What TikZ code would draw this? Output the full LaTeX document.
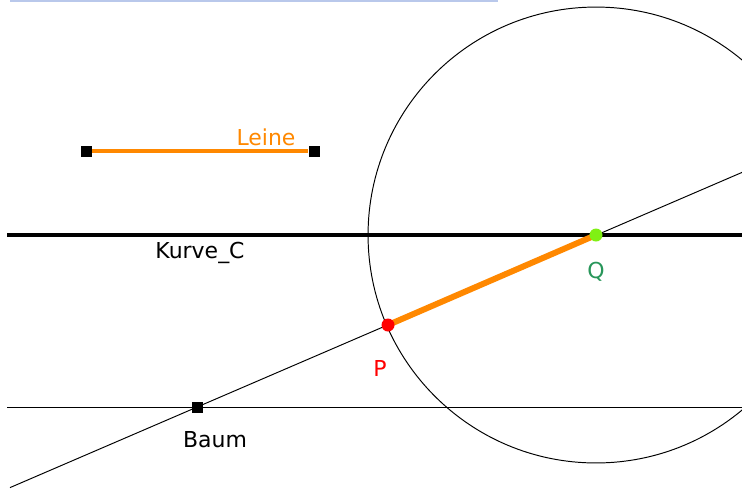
\documentclass[tikz,border=0pt]{standalone}
\usepackage{fontspec}
\setmainfont{DejaVu Sans}
\definecolor{leineorange}{RGB}{255,136,0}
\definecolor{pointred}{RGB}{255,0,0}
\definecolor{pointgreen}{RGB}{128,240,20}
\definecolor{qgreen}{RGB}{40,150,90}
\definecolor{barblue}{RGB}{185,200,235}
\usetikzlibrary{calc}

\begin{document}
\begin{tikzpicture}[x=0.02cm, y=-0.02cm,
  every node/.style={font=\fontsize{12.5}{14}\selectfont},
  sqpoint/.style={fill=black, draw=none, minimum size=0.22cm, inner sep=0pt},
  dotpoint/.style={circle, draw=none, minimum size=0.26cm, inner sep=0pt},
  thinline/.style={black, line width=0.55pt},
  thickline/.style={black, line width=2.3pt},
  rope/.style={leineorange, line width=2.3pt}]
  \useasboundingbox (0,0) rectangle (742,491);
  \clip (0,0) rectangle (742,491);

  % bar along the top edge
  \fill[barblue] (10,0) rectangle (498,2);

  % helper coordinates at the borders
  \coordinate (kl) at (7,235);
  \coordinate (kr) at (742,235);
  \coordinate (bl) at (7,407);
  \coordinate (br) at (742,407);
  \coordinate (sl) at (10,487.6);
  \coordinate (sr) at (742,172.4);

  % Leine
  \node[sqpoint] (l1) at (86,151) {};
  \node[sqpoint] (l2) at (314,151) {};
  \draw[rope] (l1) -- (l2);
  \node[leineorange] (leine) at (266,137) {Leine};

  % Kurve_C and the line through Baum
  \draw[thickline] (kl) -- (kr);
  \node (kurve) at (200,253) {Kurve\_C};
  \draw[thinline] (bl) -- (br);

  % circle round Q with radius Leine
  \coordinate (qc) at (596,235);
  \draw[thinline] (qc) circle (4.56cm);

  % line from Baum through P and Q
  \draw[thinline] (sl) -- (sr);

  % points
  \node[sqpoint] (baum) at (197,407) {};
  \node (baumlabel) at (215,440) {Baum};
  \node[dotpoint] (p) at (388,325) {};
  \node[dotpoint] (q) at (596,235) {};
  \draw[leineorange, line width=3.4pt] (p.center) -- (q.center);
  \node[dotpoint, fill=pointred] at (p) {};
  \node[dotpoint, fill=pointgreen] at (q) {};
  \node[pointred] (plabel) at (380,368) {P};
  \node[qgreen] (qlabel) at (596,272) {Q};
\end{tikzpicture}
\end{document}
